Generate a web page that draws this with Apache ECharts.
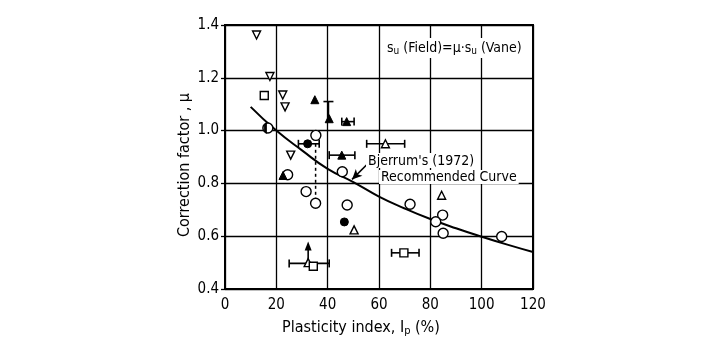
<!DOCTYPE html>
<html>
<head>
<meta charset="utf-8">
<script src="https://cdn.jsdelivr.net/npm/echarts@6/dist/echarts.min.js"></script>
<style>
  html, body { margin: 0; padding: 0; background: #fff; }
  #chart { width: 722px; height: 351px; }
</style>
</head>
<body>
<div id="chart"></div>
<script>
/* Correction factor vs plasticity index (Bjerrum 1972) */
const FONT = "'DejaVu Sans Condensed', 'DejaVu Sans', sans-serif";

// axis ticks
const xTicks = [0, 20, 40, 60, 80, 100, 120];
const yTicks = [0.4, 0.6, 0.8, 1.0, 1.2, 1.4];

// measured points, [Ip, mu]
const openCircle = [[35.4, 0.982], [45.7, 0.844], [24.4, 0.833], [31.6, 0.769], [35.3, 0.725],
  [47.6, 0.718], [72.1, 0.721], [84.8, 0.68], [82.1, 0.655], [85.0, 0.611], [107.8, 0.599], [16.7, 1.01]];
const halfCircle = [[16.7, 1.01]];
const filledCircle = [[32.2, 0.95], [46.5, 0.654]];
const openTri = [[62.5, 0.95], [50.3, 0.624], [84.4, 0.755], [32.4, 0.50]];
const filledTri = [[35.0, 1.117], [40.6, 1.045], [47.4, 1.034], [45.5, 0.907], [22.6, 0.83]];
const invTri = [[12.3, 1.362], [17.5, 1.205], [22.5, 1.135], [23.4, 1.09], [25.6, 0.907]];
const openSquare = [[15.3, 1.133], [34.4, 0.486], [69.7, 0.537]];

// error bars: horizontal [xlo, xhi, y], vertical [x, ylo, yhi]
const errH = [[28.6, 36.7, 0.95], [45.5, 50.3, 1.034], [40.6, 50.6, 0.907],
  [55.2, 70.0, 0.95], [25.0, 40.6, 0.497], [64.9, 75.6, 0.537]];
const errV = [[40.3, 1.045, 1.11]];
const dashedLink = [[35.3, 0.95], [35.3, 0.725]];
const arrowUp = [[32.4, 0.502], [32.4, 0.58]];

// Bjerrum's (1972) recommended curve
const bjerrum = [[10, 1.09], [20, 1.0], [30, 0.925], [40, 0.855], [50, 0.805], [60, 0.75],
  [70, 0.705], [80, 0.665], [90, 0.63], [100, 0.598], [110, 0.568], [120, 0.54]];
const bjerrumArrow = [[56.1, 0.879], [49.5, 0.815]];

const chart = echarts.init(document.getElementById("chart"));

const hollow = { color: "#fff", borderColor: "#000", borderWidth: 1.4, opacity: 1 };
const solid = { color: "#000", borderColor: "#000", borderWidth: 1, opacity: 1 };
const pts = (data, symbol, size, style, extra) => Object.assign({
  type: "scatter", data, symbol, symbolSize: size, itemStyle: style, z: 5, silent: true,
}, extra || {});

function errBarItem(params, api) {
  const lo = api.coord([api.value(0), api.value(2)]);
  const hi = api.coord([api.value(1), api.value(2)]);
  const st = { stroke: "#000", lineWidth: 1.6 };
  return { type: "group", children: [
    { type: "line", shape: { x1: lo[0], y1: lo[1], x2: hi[0], y2: hi[1] }, style: st },
    { type: "line", shape: { x1: lo[0], y1: lo[1] - 4, x2: lo[0], y2: lo[1] + 4 }, style: st },
    { type: "line", shape: { x1: hi[0], y1: hi[1] - 4, x2: hi[0], y2: hi[1] + 4 }, style: st },
  ] };
}
function errVItem(params, api) {
  const lo = api.coord([api.value(0), api.value(1)]);
  const hi = api.coord([api.value(0), api.value(2)]);
  const st = { stroke: "#000", lineWidth: 1.6 };
  return { type: "group", children: [
    { type: "line", shape: { x1: lo[0], y1: lo[1], x2: hi[0], y2: hi[1] }, style: st },
    { type: "line", shape: { x1: hi[0] - 5, y1: hi[1], x2: hi[0] + 5, y2: hi[1] }, style: st },
  ] };
}
function arrowItem(params, api) {
  if (params.dataIndex !== 0) return;
  const a = api.coord(arrowUp[0]), b = api.coord(arrowUp[1]);
  return { type: "group", children: [
    { type: "line", shape: { x1: a[0], y1: a[1], x2: b[0], y2: b[1] + 6 }, style: { stroke: "#000", lineWidth: 1.6 } },
    { type: "polygon", shape: { points: [[b[0], b[1]], [b[0] - 3.5, b[1] + 9], [b[0] + 3.5, b[1] + 9]] }, style: { fill: "#000" } },
  ] };
}

const labelFont = { color: "#000", fontFamily: FONT, fontSize: 15 };

chart.setOption({
  animation: false,
  backgroundColor: "#fff",
  grid: { left: 225, right: 189, top: 25, bottom: 62, show: true, borderColor: "#000", borderWidth: 2 },
  xAxis: {
    type: "value", min: 0, max: 120, interval: 20,
    axisLine: { lineStyle: { color: "#000", width: 2 } },
    axisTick: { show: false },
    axisLabel: Object.assign({ margin: 9, formatter: (v) => xTicks.includes(v) ? String(v) : "" }, labelFont),
    splitLine: { lineStyle: { color: "#000", width: 1.3 } },
    name: "Plasticity index, I{sub|p} (%)",
    nameLocation: "middle", nameGap: 30,
    nameTextStyle: {
      color: "#000", fontFamily: FONT, fontSize: 16, padding: [0, 36, 0, 0],
      rich: { sub: { fontFamily: FONT, fontSize: 11, padding: [7, 0, 0, 0] } },
    },
  },
  yAxis: {
    type: "value", min: 0.4, max: 1.4, interval: 0.2,
    axisLine: { lineStyle: { color: "#000", width: 2 } },
    axisTick: { show: true, length: 4, lineStyle: { color: "#000", width: 1.3 } },
    axisLabel: Object.assign({ margin: 6, formatter: (v) => {
      const t = yTicks.find((y) => Math.abs(y - v) < 1e-6);
      return t == null ? "" : t.toFixed(1);
    } }, labelFont),
    splitLine: { lineStyle: { color: "#000", width: 1.3 } },
    name: "Correction factor , μ",
    nameLocation: "middle", nameGap: 32, nameRotate: 90,
    nameTextStyle: { color: "#000", fontFamily: FONT, fontSize: 16, padding: [0, 0, 0, -16] },
  },
  series: [
    { type: "line", data: bjerrum, smooth: true, symbol: "none", silent: true, z: 4,
      lineStyle: { color: "#000", width: 2 },
      markLine: { silent: true, symbol: ["none", "arrow"], symbolSize: [7, 10], label: { show: false },
        lineStyle: { color: "#000", width: 1.6, type: "solid" },
        data: [[{ coord: bjerrumArrow[0] }, { coord: bjerrumArrow[1] }]] } },
    { type: "line", data: dashedLink, symbol: "none", silent: true, z: 3,
      lineStyle: { color: "#000", width: 1.5, type: [3, 3] } },
    { type: "custom", data: errH, renderItem: errBarItem, silent: true, z: 4 },
    { type: "custom", data: errV, renderItem: errVItem, silent: true, z: 4 },
    { type: "custom", data: arrowUp, renderItem: arrowItem, silent: true, z: 4 },
    pts(openCircle, "circle", 10, hollow),
    pts(halfCircle, "path://M5,0 A5,5 0 0,0 5,10 Z", [5, 10], solid, { symbolKeepAspect: true, symbolOffset: [-2.5, 0], z: 6 }),
    pts(filledCircle, "circle", 8, solid),
    pts(openTri, "triangle", 8, hollow),
    pts(filledTri, "triangle", 8, solid),
    pts(invTri, "path://M0,0 L10,0 L5,9 Z", 8, hollow),
    pts(openSquare, "rect", 8, hollow),
  ],
  graphic: [
    { type: "text", left: 384, top: 38, z: 10,
      style: { text: "s{sub|u} (Field)=μ·s{sub|u} (Vane)", fill: "#000", font: "14px " + FONT,
        backgroundColor: "#fff", padding: [2, 3, 2, 3],
        rich: { sub: { fontFamily: FONT, fontSize: 10, padding: [6, 0, 0, 0] } } } },
    { type: "text", left: 366, top: 153, z: 10,
      style: { text: "Bjerrum's (1972)", fill: "#000", font: "14px " + FONT, backgroundColor: "#fff", padding: [1, 2, 0, 2] } },
    { type: "text", left: 379, top: 170, z: 10,
      style: { text: "Recommended Curve", fill: "#000", font: "14px " + FONT, backgroundColor: "#fff", padding: [0, 2, 0, 2] } },
  ],
});
</script>
</body>
</html>
